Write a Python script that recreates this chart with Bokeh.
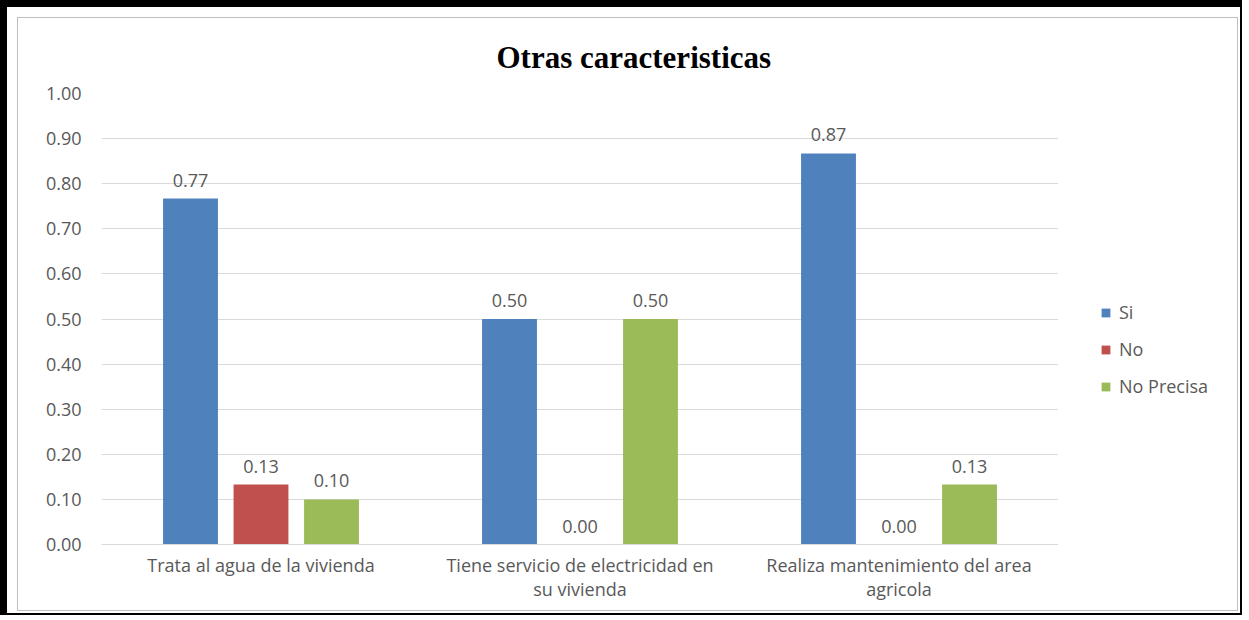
from bokeh.plotting import figure
from bokeh.models import (ColumnDataSource, FactorRange, FixedTicker, PrintfTickFormatter,
                          LabelSet, Legend, LegendItem, Range1d)
from bokeh.transform import dodge
from bokeh.layouts import column, row
from bokeh.core.properties import value
from bokeh.embed import file_html
from bokeh.resources import INLINE

# ---- data ----
categories = ["Trata al agua de la vivienda",
              "Tiene servicio de electricidad en\nsu vivienda",
              "Realiza mantenimiento del area\nagricola"]
series_names = ["Si", "No", "No Precisa"]
si = [0.767, 0.50, 0.867]
no = [0.133, 0.00, 0.00]
no_precisa = [0.10, 0.50, 0.133]
y_ticks = [0.0, 0.1, 0.2, 0.3, 0.4, 0.5, 0.6, 0.7, 0.8, 0.9, 1.0]
title_text = "Otras caracteristicas"

colors = ["#4F81BD", "#C0504D", "#9BBB59"]
offsets = [-0.221, 0.0, 0.221]
bar_w = 0.172
FONT = "Open Sans"
TXT = "#595959"
FS = "18px"

src = ColumnDataSource(dict(
    cat=categories,
    si=si, no=no, np_=no_precisa,
    si_lbl=[f"{v:.2f}" for v in si],
    no_lbl=[f"{v:.2f}" for v in no],
    np_lbl=[f"{v:.2f}" for v in no_precisa],
))

p = figure(x_range=FactorRange(*categories), y_range=(0, 1.0),
           frame_width=957, frame_height=451,
           output_backend="svg", toolbar_location=None,
           min_border_left=83, min_border_right=0, min_border_top=73, min_border_bottom=66,
           title=title_text)
p.outline_line_color = None
p.background_fill_color = "white"
p.border_fill_color = "white"

p.title.align = "left"
p.title.offset = 395
p.title.standoff = 38
p.title.text_font = "Liberation Serif"
p.title.text_font_style = "bold"
p.title.text_font_size = "31px"
p.title.text_color = "black"

cols = ["si", "no", "np_"]
lbls = ["si_lbl", "no_lbl", "np_lbl"]
for c, l, col, off in zip(cols, lbls, colors, offsets):
    p.vbar(x=dodge("cat", off, range=p.x_range), top=c, width=bar_w, source=src,
           fill_color=col, line_color=None)
    ls = LabelSet(x=dodge("cat", off, range=p.x_range), y=c, text=l, source=src,
                  text_align="center", text_baseline="bottom", y_offset=12,
                  text_font=value(FONT), text_font_size=FS, text_color=TXT)
    p.add_layout(ls)

# axes
p.yaxis.ticker = FixedTicker(ticks=y_ticks)
p.yaxis.formatter = PrintfTickFormatter(format="%.2f")
p.yaxis.axis_line_color = None
p.yaxis.major_tick_line_color = None
p.yaxis.minor_tick_line_color = None
p.yaxis.major_label_standoff = 14
p.yaxis.major_label_text_font = FONT
p.yaxis.major_label_text_font_size = FS
p.yaxis.major_label_text_color = TXT

p.xaxis.axis_line_color = "#d9d9d9"
p.xaxis.major_tick_line_color = None
p.xaxis.minor_tick_line_color = None
p.xaxis.major_label_standoff = 2
p.xaxis.major_label_text_font = FONT
p.xaxis.major_label_text_font_size = FS
p.xaxis.major_label_text_color = TXT
p.xaxis.major_label_text_line_height = 1.0

p.xgrid.grid_line_color = None
p.ygrid.grid_line_color = "#d9d9d9"
p.ygrid.grid_line_width = 1

# legend panel (separate small figure to the right of the plot area)
pl = figure(width=179, height=590, x_range=FactorRange(*categories), y_range=Range1d(0, 1),
            output_backend="svg", toolbar_location=None,
            min_border_left=0, min_border_right=0, min_border_top=0, min_border_bottom=0,
            x_axis_location=None, y_axis_location=None)
pl.outline_line_color = None
pl.grid.visible = False
pl.background_fill_color = "white"
pl.border_fill_color = "white"
leg_renderers = []
for c, col in zip(cols, colors):
    # zero-width bars: invisible, used only for the legend swatches
    r = pl.vbar(x="cat", top=c, width=0, source=src, fill_color=col, line_color=None)
    leg_renderers.append(r)

legend = Legend(items=[LegendItem(label=n, renderers=[r]) for n, r in zip(series_names, leg_renderers)],
                location=(42, 144), orientation="vertical",
                glyph_width=11, glyph_height=11, label_height=20, spacing=13,
                label_standoff=8, padding=0, margin=0,
                label_text_font=FONT, label_text_font_size=FS, label_text_color=TXT,
                background_fill_alpha=0, border_line_color=None)
pl.add_layout(legend)

inner = column(row(p, pl), styles={"border-style": "solid", "border-color": "#bfbfbf",
                                   "border-width": "1px"})
outer = column(inner, styles={"border-style": "solid", "border-color": "black",
                              "border-width": "7px 2px 2px 7px",
                              "padding": "10px 2px 2px 10px"})

open("out.html", "w").write(file_html(outer, INLINE))
